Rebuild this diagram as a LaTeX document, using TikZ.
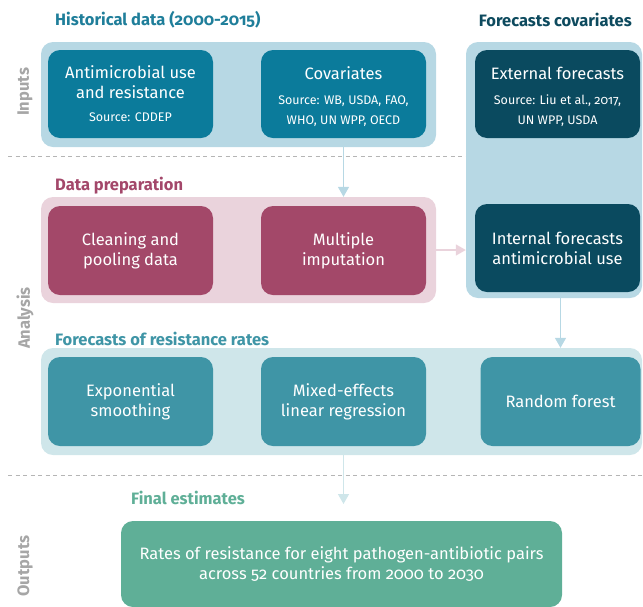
\documentclass[tikz,border=0pt]{standalone}
\usepackage{fontspec}
\setmainfont{Fira Sans}[Numbers=OldStyle]
\usetikzlibrary{arrows.meta}
\definecolor{histpanelc}{HTML}{B7D8E4}
\definecolor{histboxc}{HTML}{0B7B9B}
\definecolor{navyc}{HTML}{0A4A5F}
\definecolor{prepboxc}{HTML}{A34869}
\definecolor{preppanelc}{HTML}{EAD3DC}
\definecolor{resboxc}{HTML}{3F95A6}
\definecolor{respanelc}{HTML}{CFE6EA}
\definecolor{greenc}{HTML}{5FAF97}
\definecolor{histtitlec}{HTML}{1F7E9A}
\definecolor{fctitlec}{HTML}{0D4A5E}
\definecolor{preptitlec}{HTML}{A3476A}
\definecolor{sidec}{HTML}{A6A6A6}
\definecolor{dashc}{HTML}{B5B5B5}
\newcommand{\srcsize}{\fontsize{12.5}{18}\selectfont}
\begin{document}
\begin{tikzpicture}[x=1pt,y=-1pt,
  panel/.style={shape=rectangle, rounded corners=12pt, inner sep=0pt, draw=none},
  box/.style={shape=rectangle, rounded corners=12pt, inner sep=0pt, draw=none, text=white, align=center,
    font=\fontsize{16.5}{20}\selectfont, minimum width=165pt, minimum height=88pt},
  grptitle/.style={anchor=west, inner sep=0pt, font=\bfseries\fontsize{16.5}{19}\selectfont},
  sidelabel/.style={rotate=90, inner sep=0pt, text=sidec, font=\bfseries\fontsize{16.5}{19}\selectfont},
  sepline/.style={draw=dashc, line width=0.9pt, dash pattern=on 4pt off 3.5pt},
  flow/.style={line width=1.5pt, -{Triangle[width=11pt,length=10pt]}}
]
\useasboundingbox (0,0) rectangle (643,606);

% separators
\coordinate (s1a) at (8,156);
\coordinate (s1b) at (643,156);
\coordinate (s2a) at (8,475);
\coordinate (s2b) at (643,475);
\draw[sepline] (s1a) -- (s1b);
\draw[sepline] (s2a) -- (s2b);

% side labels
\node[sidelabel] (lin) at (25,92) {Inputs};
\node[sidelabel] (lan) at (25,318) {Analysis};
\node[sidelabel] (lout) at (25,566) {Outputs};

% titles
\node[grptitle, text=histtitlec] (thist) at (55,20) {Historical data (2000-2015)};
\node[grptitle, anchor=east, text=fctitlec] (tfc) at (632,20) {Forecasts covariates};
\node[grptitle, text=preptitlec] (tprep) at (55,186) {Data preparation};
\node[grptitle, text=resboxc] (tres) at (55,339) {Forecasts of resistance rates};
\node[grptitle, text=greenc] (tout) at (131,498) {Final estimates};

% panels
\node[panel, fill=histpanelc, minimum width=395pt, minimum height=105pt] (hist) at (238.5,94.5) {};
\node[panel, fill=histpanelc, minimum width=176pt, minimum height=256pt] (fc) at (554,170) {};
\node[panel, fill=preppanelc, minimum width=395pt, minimum height=106pt] (prep) at (238.5,250) {};
\node[panel, fill=respanelc, minimum width=601pt, minimum height=107pt] (res) at (341.5,401.5) {};

% boxes
\node[box, fill=histboxc] (amr) at (130.5,94) {Antimicrobial use\\and resistance\\[3pt]\srcsize Source: CDDEP};
\node[box, fill=histboxc] (cov) at (343.5,94) {\rule{0pt}{18pt}Covariates\\[5pt]\srcsize Source: WB, USDA, FAO,\\\srcsize WHO, UN WPP, OECD};
\node[box, fill=navyc] (ext) at (557.5,94) {\rule{0pt}{18pt}External forecasts\\[5pt]\srcsize Source: Liu et al., 2017,\\\srcsize UN WPP, USDA};
\node[box, fill=navyc] (int) at (557.5,248) {Internal forecasts\\antimicrobial use};
\node[box, fill=prepboxc, minimum height=89pt] (clean) at (130.5,250.5) {Cleaning and\\pooling data};
\node[box, fill=prepboxc, minimum height=89pt] (mi) at (343.5,250.5) {Multiple\\imputation};
\node[box, fill=resboxc, minimum height=89pt] (exp) at (130.5,401.5) {Exponential\\smoothing};
\node[box, fill=resboxc, minimum height=89pt] (mix) at (343.5,401.5) {Mixed-effects\\linear regression};
\node[box, fill=resboxc, minimum height=89pt, minimum width=160pt] (rf) at (560.5,401.5) {Random forest};
\node[box, fill=greenc, minimum width=441pt, minimum height=86pt] (out) at (341.5,564) {Rates of resistance for eight pathogen-antibiotic pairs\\across 52 countries from 2000 to 2030};

% connectors
\draw[flow, draw=histpanelc, fill=histpanelc] (hist.south -| cov.south) -- (prep.north -| cov.south);
\draw[flow, draw=preppanelc, fill=preppanelc] (prep.east) -- (prep.east -| fc.west);
\draw[flow, draw=histpanelc, fill=histpanelc] (fc.south -| rf.north) -- (res.north -| rf.north);
\coordinate (outtip) at (343.5,504);
\draw[flow, draw=respanelc, fill=respanelc] (res.south -| mix.south) -- (outtip);
\end{tikzpicture}
\end{document}
